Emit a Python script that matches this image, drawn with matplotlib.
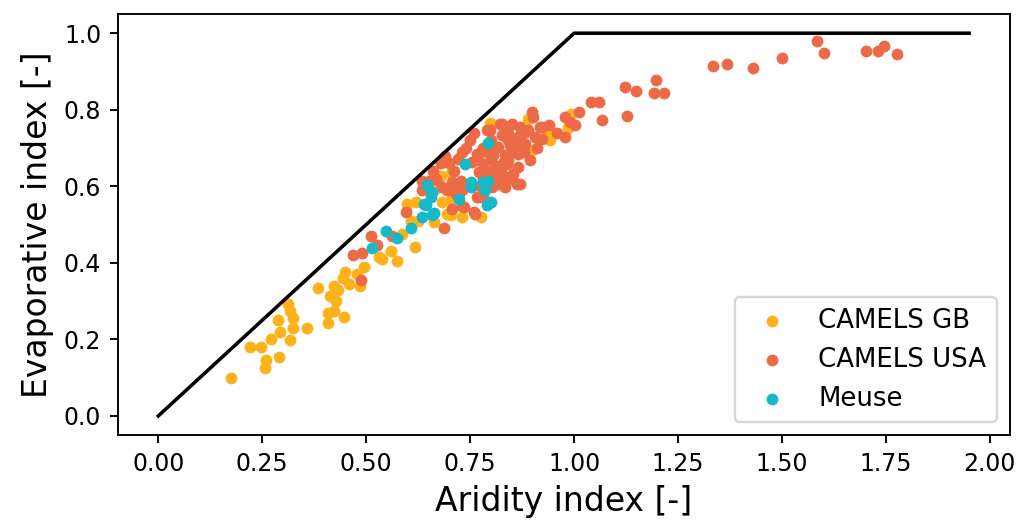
import numpy as np
import matplotlib
matplotlib.use("Agg")
import matplotlib.pyplot as plt

# Budyko limits
limit_x = [0.0, 1.0, 1.95]
limit_y = [0.0, 1.0, 1.0]

# CAMELS GB (aridity, evaporative index)
gb_x = [0.174, 0.220, 0.247, 0.260, 0.256, 0.291, 0.270, 0.293, 0.317, 0.289,
        0.325, 0.358, 0.311, 0.317, 0.325, 0.385, 0.407, 0.423, 0.409, 0.446,
        0.413, 0.427, 0.423, 0.432, 0.449, 0.443, 0.459, 0.477, 0.485, 0.495,
        0.531, 0.539, 0.559, 0.575, 0.617, 0.587, 0.607, 0.625, 0.663, 0.599,
        0.619, 0.695, 0.683, 0.663, 0.681, 0.705, 0.703, 0.703, 0.731, 0.776,
        0.798, 0.834, 0.890, 0.938, 0.942, 0.898, 0.992, 0.986]
gb_y = [0.100, 0.179, 0.179, 0.146, 0.125, 0.153, 0.200, 0.220, 0.199, 0.250,
        0.230, 0.230, 0.292, 0.273, 0.256, 0.333, 0.270, 0.275, 0.244, 0.259,
        0.314, 0.301, 0.340, 0.330, 0.375, 0.360, 0.345, 0.371, 0.340, 0.390,
        0.416, 0.410, 0.432, 0.406, 0.441, 0.476, 0.508, 0.508, 0.506, 0.554,
        0.558, 0.528, 0.558, 0.589, 0.628, 0.635, 0.563, 0.524, 0.519, 0.520,
        0.765, 0.755, 0.776, 0.742, 0.722, 0.694, 0.790, 0.751]

# CAMELS USA
usa_x = [0.469, 0.491, 0.487, 0.511, 0.525, 0.563, 0.595, 0.633, 0.651, 0.687,
         0.707, 0.731, 0.759, 0.766, 0.782, 0.735, 0.762, 0.667, 0.683, 0.695,
         0.711, 0.707, 0.715, 0.731, 0.727, 0.719, 0.635, 0.660, 0.680, 0.700,
         0.690, 0.720, 0.730, 0.740, 0.750, 0.760, 0.790, 0.822, 0.850, 0.870,
         0.890, 0.918, 0.826, 0.866, 0.906, 0.922, 0.818, 0.846, 0.882, 0.766,
         0.806, 0.834, 0.866, 0.894, 0.754, 0.782, 0.810, 0.838, 0.866, 0.771,
         0.798, 0.826, 0.854, 0.818, 0.862, 0.810, 0.790, 0.800, 0.840, 0.780,
         0.830, 0.850, 0.800, 0.820, 0.880, 0.840, 0.860, 0.790, 0.770, 0.810,
         0.830, 0.850, 0.780, 0.842, 0.834, 0.802, 0.774, 0.870, 0.774, 0.898,
         0.902, 0.978, 0.990, 0.978, 0.922, 0.940, 0.960, 0.880, 0.910, 0.826,
         0.798, 1.002, 1.012, 1.040, 1.059, 1.067, 1.123, 1.150, 1.196, 1.193,
         1.215, 1.128, 1.335, 1.367, 1.431, 1.499, 1.583, 1.602, 1.703, 1.731,
         1.745, 1.777]
usa_y = [0.421, 0.425, 0.355, 0.471, 0.447, 0.471, 0.532, 0.591, 0.615, 0.491,
         0.541, 0.549, 0.532, 0.571, 0.571, 0.545, 0.528, 0.620, 0.598, 0.589,
         0.641, 0.611, 0.580, 0.589, 0.615, 0.589, 0.615, 0.640, 0.660, 0.660,
         0.680, 0.670, 0.690, 0.700, 0.720, 0.740, 0.748, 0.764, 0.764, 0.755,
         0.746, 0.755, 0.733, 0.728, 0.728, 0.724, 0.702, 0.707, 0.711, 0.685,
         0.681, 0.681, 0.685, 0.668, 0.663, 0.659, 0.654, 0.659, 0.650, 0.637,
         0.633, 0.633, 0.633, 0.606, 0.606, 0.624, 0.690, 0.720, 0.720, 0.700,
         0.660, 0.690, 0.670, 0.640, 0.690, 0.740, 0.710, 0.640, 0.670, 0.700,
         0.620, 0.620, 0.620, 0.668, 0.598, 0.598, 0.602, 0.606, 0.571, 0.794,
         0.781, 0.781, 0.768, 0.728, 0.755, 0.760, 0.740, 0.740, 0.700, 0.764,
         0.746, 0.759, 0.794, 0.819, 0.819, 0.773, 0.859, 0.849, 0.879, 0.844,
         0.844, 0.784, 0.914, 0.919, 0.909, 0.935, 0.979, 0.949, 0.954, 0.954,
         0.966, 0.945]

# Meuse
meuse_x = [0.515, 0.547, 0.575, 0.607, 0.633, 0.639, 0.663, 0.655, 0.659, 0.647,
           0.643, 0.659, 0.723, 0.737, 0.753, 0.753, 0.782, 0.793, 0.786, 0.790,
           0.801, 0.792]
meuse_y = [0.439, 0.482, 0.465, 0.491, 0.521, 0.554, 0.530, 0.573, 0.585, 0.604,
           0.550, 0.524, 0.567, 0.657, 0.611, 0.598, 0.611, 0.613, 0.589, 0.550,
           0.558, 0.714]

c_gb = "#FDB21C"
c_usa = "#EC6A45"
c_meuse = "#15B9C7"

fig = plt.figure(figsize=(1024 / 170, 521 / 170), dpi=170)
ax = fig.add_axes([0.115, 0.165, 0.871, 0.808])

ax.plot(limit_x, limit_y, color="black")
ax.scatter(gb_x, gb_y, s=16, color=c_gb, label="CAMELS GB")
ax.scatter(usa_x, usa_y, s=16, color=c_usa, label="CAMELS USA")
ax.scatter(meuse_x, meuse_y, s=16, color=c_meuse, label="Meuse")

ax.set_xticks(np.arange(0, 2.01, 0.25))
ax.set_xlabel("Aridity index [-]", fontsize=14)
ax.set_ylabel("Evaporative index [-]", fontsize=14)
ax.legend(loc="lower right", fontsize=11)

fig.savefig("out.png", dpi=170)
